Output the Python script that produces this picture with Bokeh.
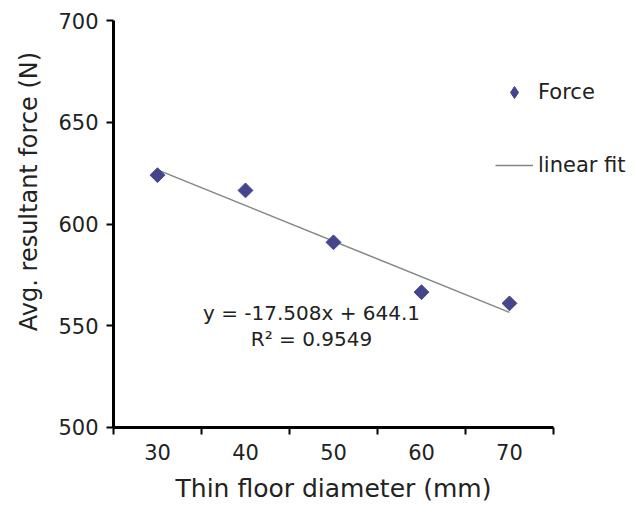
import math
from bokeh.plotting import figure
from bokeh.models import (Range1d, FixedTicker, Label, Legend, LegendItem,
                          ColumnDataSource)
from bokeh.embed import file_html
from bokeh.resources import INLINE

# ---- data ----
diameters = ["30", "40", "50", "60", "70"]          # category labels (mm)
positions = [1, 2, 3, 4, 5]                          # Excel category index
force = [624.0, 616.5, 591.0, 566.5, 561.0]          # avg resultant force (N)
fit_slope = -17.508
fit_intercept = 644.1
r_squared = 0.9549
y_ticks = [500, 550, 600, 650, 700]

FONT = "DejaVu Sans"
TXT = "#222222"

# frame covers the whole canvas; axes are pinned at fixed data locations
p = figure(width=635, height=505, output_backend="svg", toolbar_location=None,
           x_range=Range1d(-0.784, 6.432), y_range=Range1d(461.67, 709.83),
           min_border=0)
p.outline_line_color = None
p.xgrid.visible = False
p.ygrid.visible = False
p.background_fill_color = "white"
p.border_fill_color = "white"

# x axis: labels at category centres, ticks between categories
xa = p.xaxis[0]
xa.fixed_location = 500
xa.bounds = (0.5, 5.5)
xa.ticker = FixedTicker(ticks=positions,
                        minor_ticks=[x - 0.5 for x in positions] + [positions[-1] + 0.5])
xa.major_label_overrides = {pos: lab for pos, lab in zip(positions, diameters)}
xa.major_tick_line_color = None
xa.major_tick_out = 7
xa.major_tick_in = 0
xa.minor_tick_line_color = "black"
xa.minor_tick_line_width = 2
xa.minor_tick_out = 7
xa.minor_tick_in = 0
xa.axis_line_width = 3
xa.axis_line_color = "black"
xa.major_label_text_font = FONT
xa.major_label_text_font_size = "21px"
xa.major_label_text_color = TXT
xa.major_label_standoff = 10
xa.axis_label = "Thin floor diameter (mm)"
xa.axis_label_text_font = FONT
xa.axis_label_text_font_size = "25px"
xa.axis_label_text_font_style = "normal"
xa.axis_label_text_color = TXT
xa.axis_label_standoff = 10

ya = p.yaxis[0]
ya.fixed_location = 0.5
ya.bounds = (500, 700)
ya.ticker = FixedTicker(ticks=y_ticks)
ya.major_tick_line_color = "black"
ya.major_tick_line_width = 2
ya.major_tick_out = 7
ya.major_tick_in = 0
ya.minor_tick_line_color = None
ya.axis_line_width = 3
ya.axis_line_color = "black"
ya.major_label_text_font = FONT
ya.major_label_text_font_size = "21px"
ya.major_label_text_color = TXT
ya.major_label_standoff = 8

# trend line
fit_x = [positions[0], positions[-1]]
fit_y = [fit_intercept + fit_slope * x for x in fit_x]
line_r = p.line(fit_x, fit_y, line_color="#7f897f", line_width=1.5)

# data points
src = ColumnDataSource(dict(x=positions, y=force))
pts = p.scatter("x", "y", source=src, marker="square", angle=math.pi / 4,
                size=10.5, fill_color="#45458c", line_color="#45458c")
# hidden twin used only for the legend glyph (diamond shape)
proxy = p.scatter("x", "y", source=src, marker="diamond", size=14,
                  fill_color="#45458c", line_color="#45458c", visible=False)

# equation text
eq1 = Label(x=2.75, y=556.4, text=f"y = {fit_slope}x + {fit_intercept}",
            text_align="center", text_baseline="middle",
            text_font=FONT, text_font_size="20px", text_color=TXT)
eq2 = Label(x=2.75, y=543.7, text=f"R² = {r_squared}",
            text_align="center", text_baseline="middle",
            text_font=FONT, text_font_size="20px", text_color=TXT)
p.add_layout(eq1)
p.add_layout(eq2)

# y axis title (placed higher than centre, like the reference)
ytitle = Label(x=-0.4545, y=615.97, text="Avg. resultant force (N)", angle=math.pi / 2,
               text_align="center", text_baseline="middle",
               text_font=FONT, text_font_size="24px", text_color=TXT)
p.add_layout(ytitle)

legend = Legend(items=[LegendItem(label="Force", renderers=[proxy]),
                       LegendItem(label="linear fit", renderers=[line_r])],
                location=(495, 325), orientation="vertical",
                glyph_width=38, glyph_height=30, label_height=20,
                label_standoff=5, spacing=43, padding=0, margin=0,
                border_line_color=None, background_fill_alpha=0,
                label_text_font=FONT, label_text_font_size="21px",
                label_text_color=TXT)
p.add_layout(legend)

open("out.html", "w").write(file_html(p, INLINE))
